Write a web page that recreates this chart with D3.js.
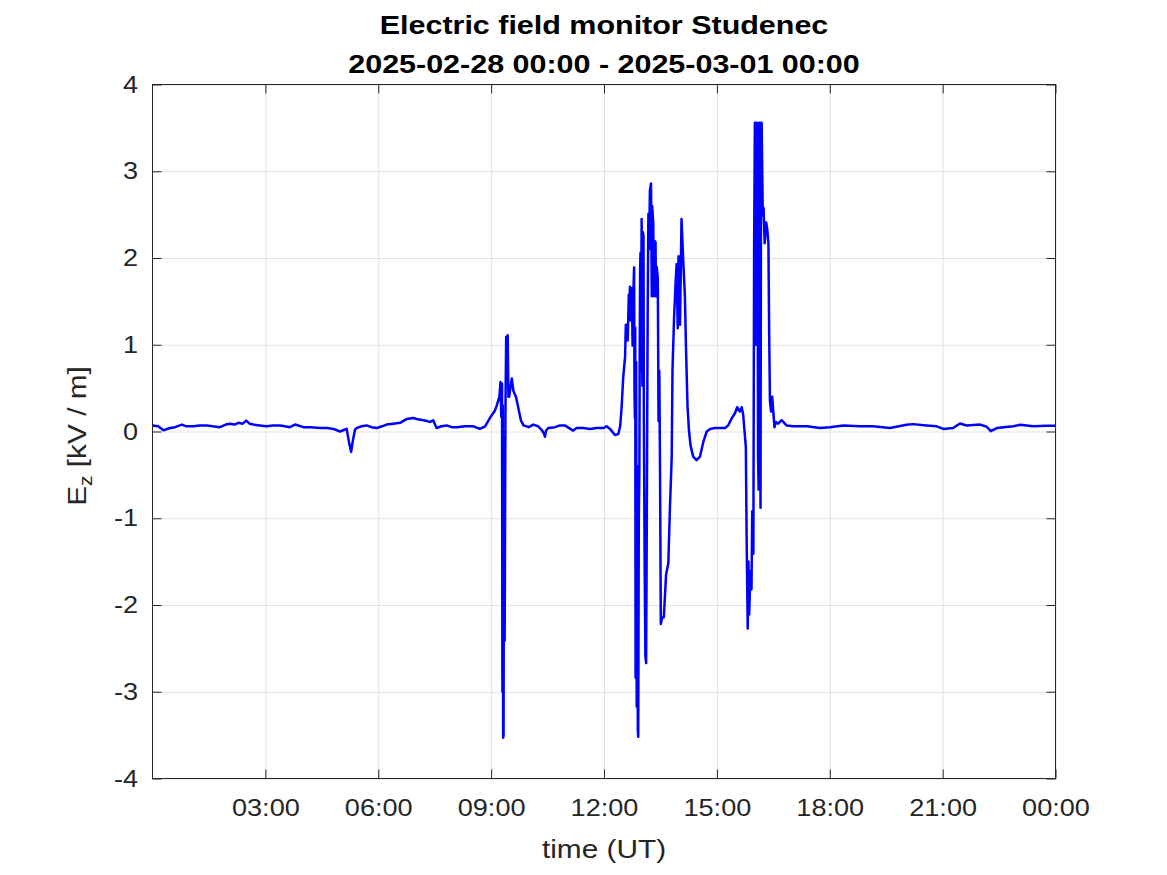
<!DOCTYPE html>
<html>
<head>
<meta charset="utf-8">
<script src="https://cdn.jsdelivr.net/npm/d3@7"></script>
<style>
  html, body { margin: 0; padding: 0; background: #fff; }
  svg { display: block; font-family: "Liberation Sans", Arial, sans-serif; }
</style>
</head>
<body>
<svg id="chart" width="1167" height="875"></svg>
<script>
// ---- data (hours after 2025-02-28 00:00 UT, Ez in kV/m) ----
const hours = [
  0.00,0.15,0.29,0.47,0.60,0.78,0.90,1.09,1.25,1.44,
  1.60,1.79,1.95,2.06,2.18,2.28,2.40,2.49,2.58,2.68,
  2.85,3.03,3.20,3.39,3.52,3.65,3.79,4.01,4.20,4.45,
  4.65,4.81,4.98,5.10,5.16,5.23,5.28,5.32,5.38,5.43,
  5.55,5.69,5.82,5.96,6.10,6.22,6.40,6.58,6.76,6.93,
  7.05,7.20,7.30,7.38,7.46,7.55,7.68,7.82,7.95,8.09,
  8.30,8.53,8.70,8.84,8.97,9.10,9.15,9.22,9.25,9.27,
  9.29,9.30,9.31,9.32,9.33,9.345,9.36,9.38,9.40,9.42,
  9.44,9.46,9.48,9.51,9.55,9.59,9.66,9.72,9.79,9.86,
  10.00,10.12,10.25,10.34,10.40,10.43,10.46,10.52,10.70,10.83,
  10.96,11.18,11.27,11.45,11.63,11.80,11.98,12.07,12.16,12.29,
  12.38,12.43,12.47,12.51,12.56,12.58,12.61,12.63,12.66,12.68,
  12.69,12.71,12.74,12.76,12.78,12.80,12.81,12.82,12.83,12.84,
  12.855,12.87,12.88,12.90,12.91,12.925,12.94,12.95,12.96,12.97,
  12.985,13.00,13.02,13.03,13.05,13.06,13.08,13.10,13.12,13.14,
  13.16,13.18,13.20,13.22,13.25,13.27,13.28,13.31,13.32,13.34,
  13.37,13.38,13.40,13.43,13.45,13.47,13.49,13.51,13.55,13.59,
  13.65,13.71,13.75,13.80,13.82,13.86,13.90,13.93,13.96,13.98,
  14.02,14.06,14.11,14.15,14.18,14.22,14.26,14.30,14.37,14.46,
  14.55,14.64,14.73,14.82,14.95,15.08,15.22,15.30,15.39,15.48,
  15.54,15.61,15.66,15.70,15.73,15.77,15.79,15.82,15.84,15.86,
  15.89,15.92,15.94,15.97,15.99,16.01,16.03,16.045,16.06,16.08,
  16.095,16.11,16.125,16.14,16.15,16.16,16.175,16.19,16.22,16.24,
  16.27,16.31,16.34,16.37,16.39,16.41,16.44,16.47,16.50,16.53,
  16.57,16.63,16.72,16.85,17.03,17.40,17.74,18.00,18.36,18.80,
  19.15,19.60,20.04,20.22,20.57,20.84,21.02,21.28,21.46,21.64,
  22.00,22.17,22.28,22.44,22.88,23.06,23.41,23.77,24.00
];
const ez = [
  0.07,0.06,0.015,0.04,0.05,0.08,0.06,0.06,0.07,0.07,
  0.06,0.05,0.08,0.09,0.08,0.10,0.09,0.125,0.09,0.08,
  0.07,0.06,0.07,0.07,0.06,0.05,0.08,0.05,0.05,0.04,
  0.04,0.03,0.00,0.02,0.03,-0.14,-0.235,-0.12,0.02,0.04,
  0.06,0.07,0.05,0.04,0.06,0.08,0.09,0.10,0.145,0.155,
  0.14,0.13,0.12,0.11,0.13,0.04,0.06,0.07,0.05,0.05,
  0.06,0.06,0.03,0.06,0.158,0.24,0.30,0.40,0.57,0.17,
  0.55,-3.00,0.30,-3.53,-3.50,-0.20,-2.41,0.20,1.09,0.55,
  1.11,0.40,0.40,0.50,0.61,0.47,0.40,0.28,0.13,0.07,
  0.05,0.08,0.06,0.02,-0.02,-0.06,0.01,0.04,0.05,0.07,
  0.07,0.01,0.04,0.04,0.03,0.04,0.04,0.06,0.03,-0.04,
  -0.03,0.06,0.29,0.62,0.86,1.23,1.23,1.05,1.58,1.45,
  1.67,1.28,1.65,0.99,1.60,1.89,0.50,0.16,1.20,-2.84,
  0.80,-3.17,-0.40,-3.45,-3.52,-1.00,-0.45,1.00,1.85,2.06,
  0.70,2.45,0.53,2.30,2.26,0.12,-1.50,-2.59,-2.67,-0.80,
  1.32,2.51,2.10,2.78,2.86,1.56,2.60,2.39,1.56,2.20,
  2.18,1.56,1.90,1.77,0.12,0.70,-0.50,-2.22,-2.14,-2.14,
  -1.65,-1.52,-0.91,-0.29,0.70,1.28,1.69,1.93,1.19,2.02,
  1.23,2.45,1.93,1.56,0.95,0.29,0.00,-0.16,-0.29,-0.33,
  -0.29,-0.12,0.00,0.03,0.04,0.04,0.04,0.07,0.15,0.21,
  0.28,0.23,0.28,0.19,0.03,-0.18,-1.20,-2.27,-1.50,-2.11,
  -1.61,-1.82,-0.92,-1.41,2.12,3.56,1.00,3.56,3.56,2.86,
  -0.30,-0.67,3.56,3.56,0.50,-0.88,3.56,3.56,2.49,2.58,
  2.17,2.41,2.33,2.17,1.14,0.36,0.23,0.40,0.23,0.05,
  0.11,0.09,0.13,0.07,0.06,0.06,0.04,0.05,0.07,0.06,
  0.06,0.04,0.077,0.085,0.07,0.06,0.03,0.04,0.092,0.07,
  0.08,0.055,0.004,0.04,0.06,0.077,0.06,0.065,0.065
];
const xTickHours = [3, 6, 9, 12, 15, 18, 21, 24];
const xTickLabels = ["03:00", "06:00", "09:00", "12:00", "15:00", "18:00", "21:00", "00:00"];
const yTicks = [-4, -3, -2, -1, 0, 1, 2, 3, 4];
const titleLines = ["Electric field monitor Studenec", "2025-02-28 00:00 - 2025-03-01 00:00"];
const xLabel = "time (UT)";

// ---- layout ----
const L = 152.5, R = 1055.5, T = 84.5, B = 778.5;
const W = R - L, H = B - T;
const stretch = 1.13;
const axisColor = "#262626";

const svg = d3.select("#chart");
const x = d3.scaleLinear().domain([0, 24]).range([L, R]);
const y = d3.scaleLinear().domain([-4, 4]).range([B, T]);

// grid
const gx = svg.append("g").attr("transform", `translate(0,${B})`)
  .call(d3.axisBottom(x).tickValues(xTickHours).tickSize(-H).tickFormat(""));
const gy = svg.append("g").attr("transform", `translate(${L},0)`)
  .call(d3.axisLeft(y).tickValues(yTicks).tickSize(-W).tickFormat(""));
[gx, gy].forEach(g => {
  g.select(".domain").remove();
  g.selectAll("line").attr("stroke", "#e2e2e2").attr("stroke-width", 1);
});

// data line
svg.append("clipPath").attr("id", "clip").append("rect")
  .attr("x", L).attr("y", T).attr("width", W).attr("height", H);
const pts = hours.map((h, i) => [h, ez[i]]);
svg.append("path")
  .datum(pts)
  .attr("clip-path", "url(#clip)")
  .attr("fill", "none")
  .attr("stroke", "#0000ff")
  .attr("stroke-width", 2.5)
  .attr("stroke-linejoin", "round")
  .attr("d", d3.line().x(d => x(d[0])).y(d => y(d[1])));

// axes with inward ticks
const tk = 9;
const xb = svg.append("g").attr("transform", `translate(0,${B})`)
  .call(d3.axisBottom(x).tickValues(xTickHours).tickSizeInner(-tk).tickSizeOuter(0).tickPadding(20)
    .tickFormat((d, i) => xTickLabels[i]));
const xt = svg.append("g").attr("transform", `translate(0,${T})`)
  .call(d3.axisTop(x).tickValues(xTickHours).tickSizeInner(-tk).tickSizeOuter(0).tickFormat(""));
const yl = svg.append("g").attr("transform", `translate(${L},0)`)
  .call(d3.axisLeft(y).tickValues(yTicks).tickSizeInner(-tk).tickSizeOuter(0).tickPadding(14.5)
    .tickFormat(d => String(d)));
const yr = svg.append("g").attr("transform", `translate(${R},0)`)
  .call(d3.axisRight(y).tickValues(yTicks).tickSizeInner(-tk).tickSizeOuter(0).tickFormat(""));
[xb, xt, yl, yr].forEach(g => {
  g.select(".domain").remove();
  g.selectAll("line").attr("stroke", axisColor).attr("stroke-width", 1);
  g.selectAll("text").attr("fill", axisColor)
    .style("font-family", '"Liberation Sans", Arial, sans-serif').style("font-size", "24px");
});
xb.selectAll("text").attr("transform", `scale(${stretch},1)`);
yl.selectAll("text").attr("transform", `scale(${stretch},1)`).attr("x", -14.5 / stretch);

// box
svg.append("rect").attr("x", L).attr("y", T).attr("width", W).attr("height", H)
  .attr("fill", "none").attr("stroke", axisColor).attr("stroke-width", 1);

// title
const cx = (L + R) / 2;
[34.3, 72.8].forEach((by, i) => {
  svg.append("text")
    .attr("transform", `translate(${cx},${by}) scale(1.15,1)`)
    .attr("text-anchor", "middle")
    .attr("font-weight", "bold")
    .attr("font-size", 26.5)
    .attr("fill", "#000")
    .text(titleLines[i]);
});

// x label
svg.append("text")
  .attr("transform", `translate(${cx},857.5) scale(${stretch},1)`)
  .attr("text-anchor", "middle")
  .attr("font-size", 26.4)
  .attr("fill", axisColor)
  .text(xLabel);

// y label E_z [kV / m]
const ylab = svg.append("text")
  .attr("transform", `translate(85.5,436) rotate(-90) scale(${stretch},1)`)
  .attr("text-anchor", "middle")
  .attr("font-size", 26.4)
  .attr("fill", axisColor);
ylab.append("tspan").text("E");
ylab.append("tspan").attr("font-size", 18.5).attr("dy", 6).text("z");
ylab.append("tspan").attr("dy", -6).text(" [kV / m]");
</script>
</body>
</html>
